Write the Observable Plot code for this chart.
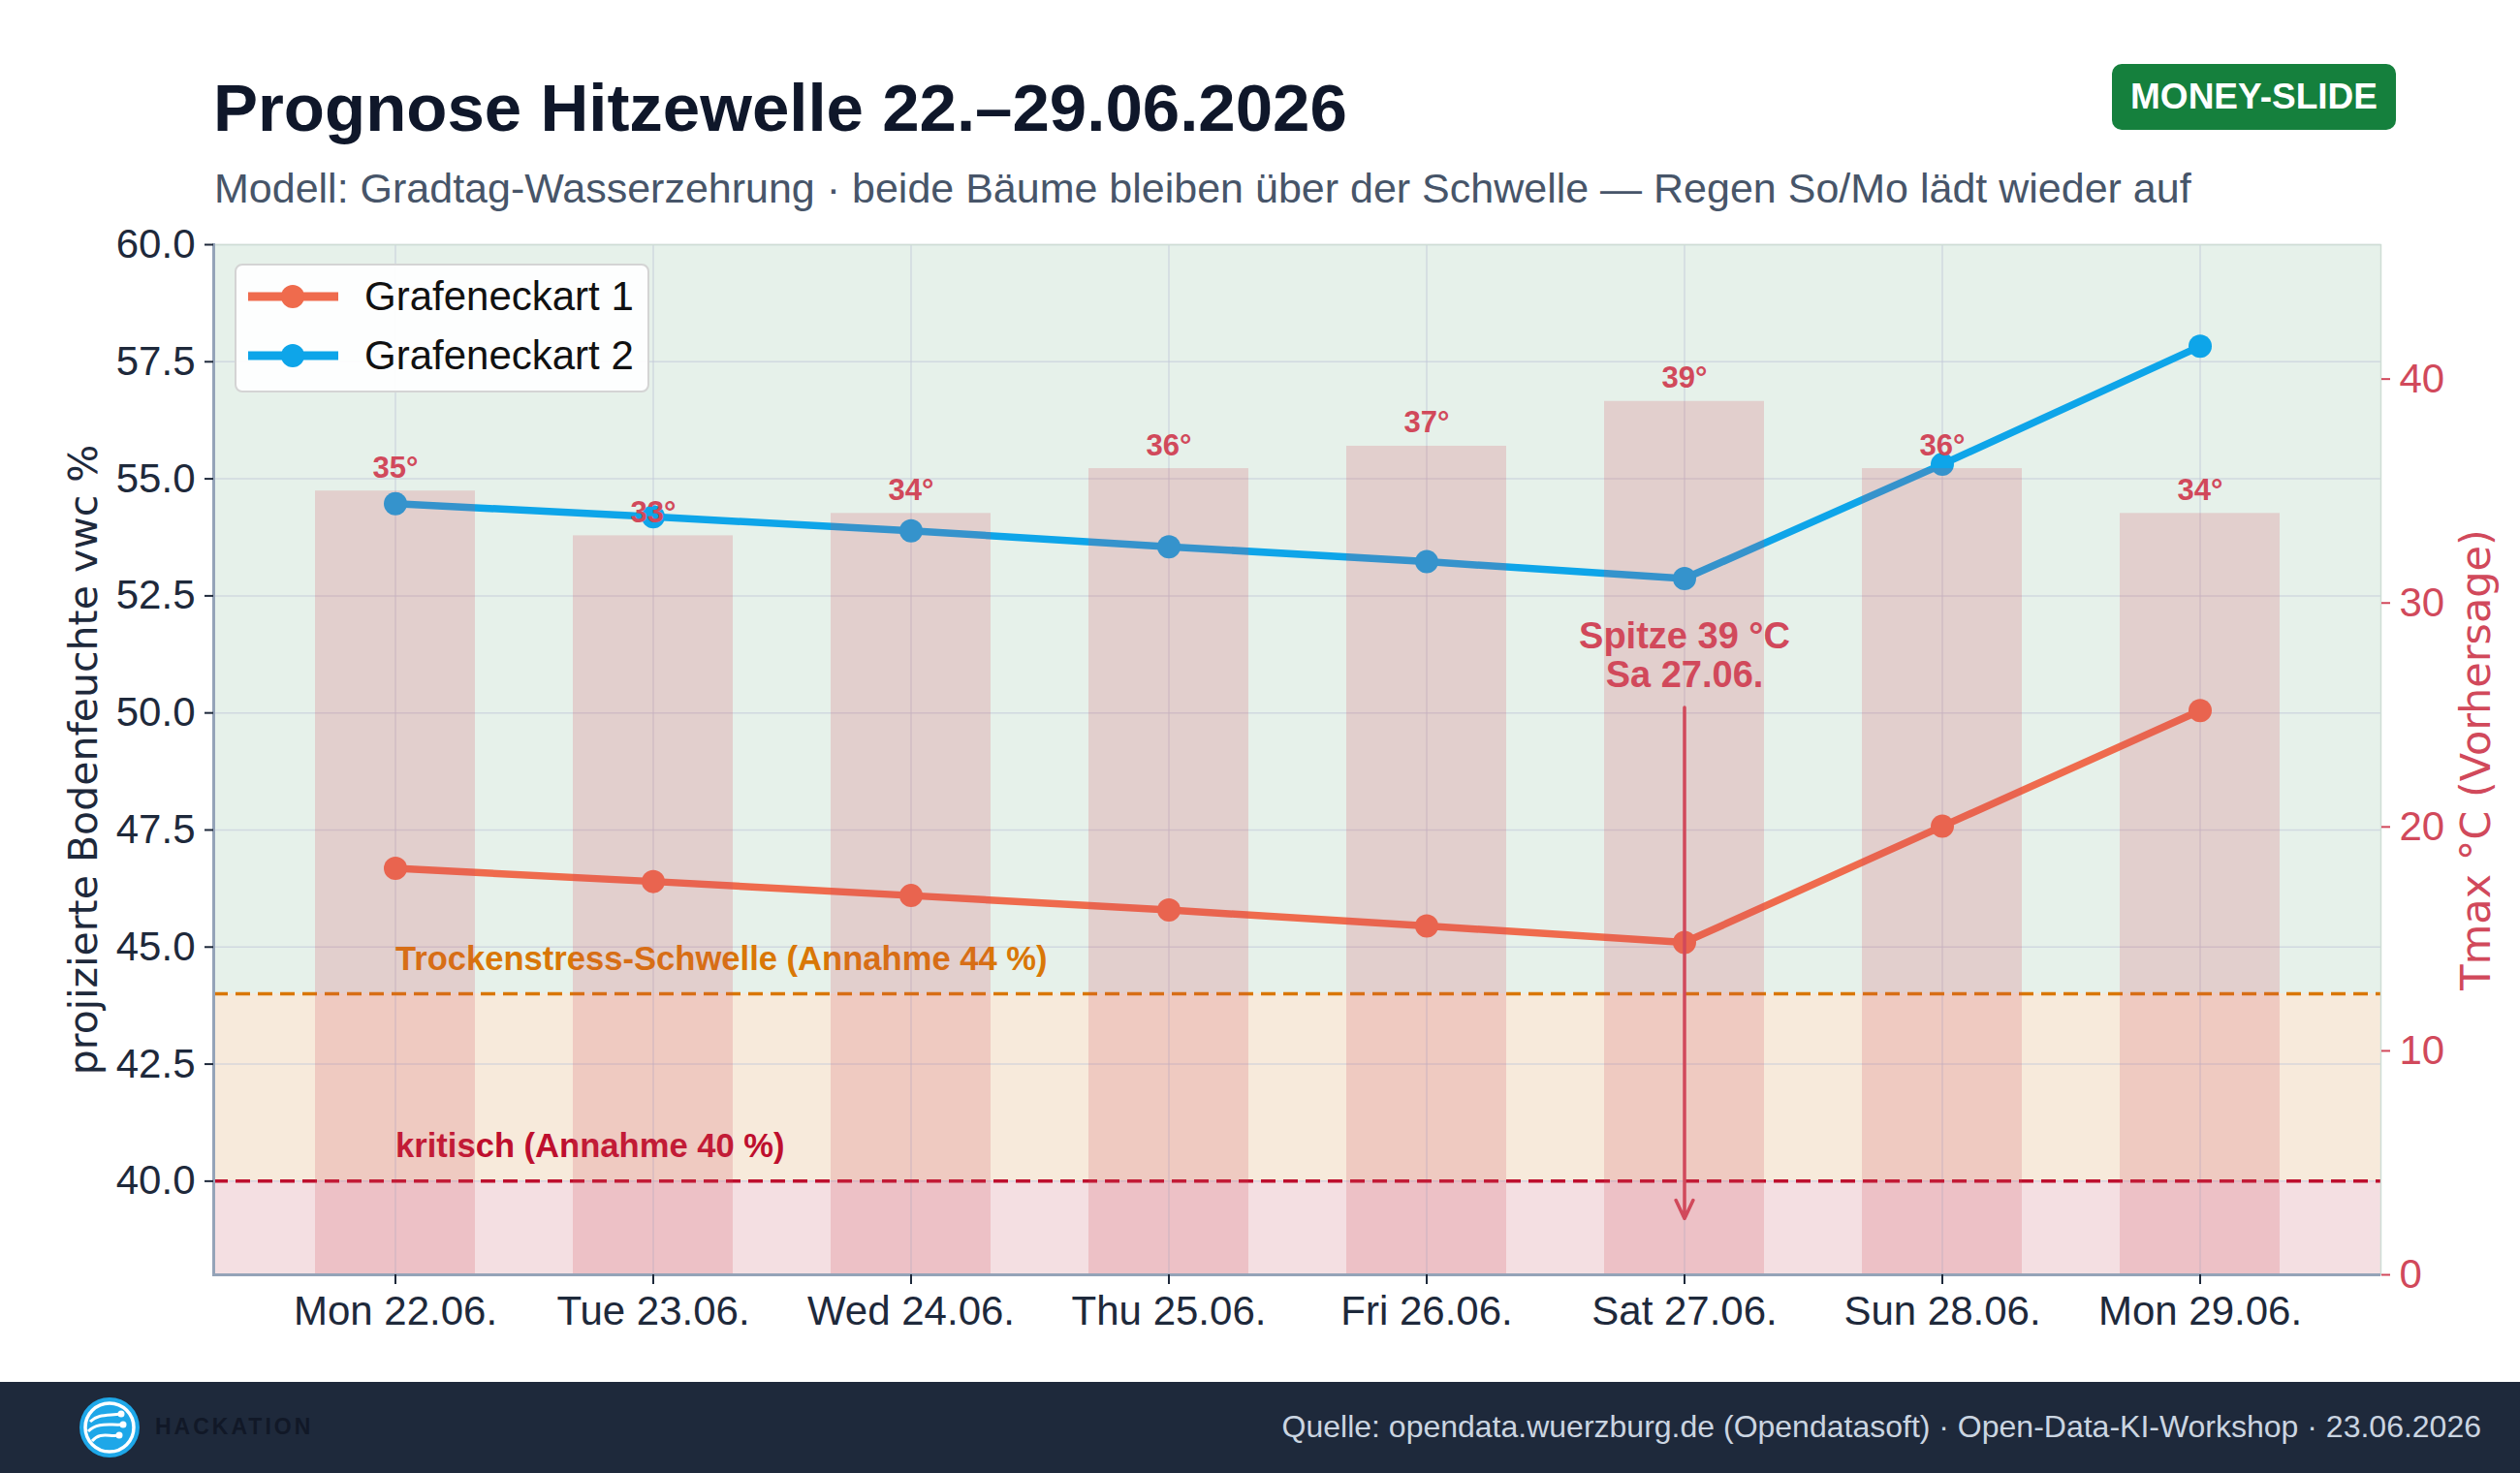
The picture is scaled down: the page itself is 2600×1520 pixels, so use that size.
<!DOCTYPE html>
<html>
<head>
<meta charset="utf-8">
<script src="https://cdn.jsdelivr.net/npm/d3@7"></script>
<script src="https://cdn.jsdelivr.net/npm/@observablehq/plot@0.6"></script>
<style>
  html, body { margin: 0; padding: 0; background: #ffffff; }
  body { width: 2600px; height: 1520px; position: relative; overflow: hidden;
         font-family: "Liberation Sans", Arial, sans-serif; }
  #title { position: absolute; left: 220px; top: 77px; font-size: 69px; line-height: 69px;
           font-weight: 700; color: #0f172a; white-space: nowrap; }
  #subtitle { position: absolute; left: 221px; top: 173px; font-size: 43px; line-height: 43px;
              color: #475569; white-space: nowrap; }
  #badge { position: absolute; left: 2179px; top: 66px; width: 293px; height: 68px;
           background: #15803d; border-radius: 10px; color: #fff; font-weight: 700;
           font-size: 37px; display: flex; align-items: center; justify-content: center; }
  #chart { position: absolute; left: 0; top: 230px; width: 2600px; }
  #legend { position: absolute; left: 242px; top: 42px; width: 424px; height: 129px;
            background: rgba(255,255,255,0.92); border: 2px solid #d4d4d4; border-radius: 8px; }
  .lrow { position: absolute; left: 0; height: 50px; display: flex; align-items: center; }
  .lrow span { font-size: 42px; color: #111; }
  #footer { position: absolute; left: 0; top: 1426px; width: 2600px; height: 94px; background: #1e293b; }
  #source { position: absolute; right: 40px; top: 28px; font-size: 32px; color: #cbd5e1; white-space: nowrap; }
  #logo { position: absolute; left: 81px; top: 15px; }
  #brand { position: absolute; left: 160px; top: 33px; font-size: 23px; font-weight: 700;
           letter-spacing: 3px; color: #111827; }
</style>
</head>
<body>
<div id="title">Prognose Hitzewelle 22.–29.06.2026</div>
<div id="subtitle">Modell: Gradtag-Wasserzehrung · beide Bäume bleiben über der Schwelle — Regen So/Mo lädt wieder auf</div>
<div id="badge">MONEY-SLIDE</div>
<div id="chart"></div>
<div id="footer">
  <svg id="logo" width="64" height="64" viewBox="0 0 64 64">
    <circle cx="32" cy="32" r="31" fill="#1ea7e8"/>
    <circle cx="32" cy="32" r="25" fill="none" stroke="#fff" stroke-width="3.5"/>
    <path d="M12 26 C 20 18, 30 20, 44 18" fill="none" stroke="#fff" stroke-width="3"/>
    <path d="M10 36 C 20 26, 32 30, 46 29" fill="none" stroke="#fff" stroke-width="3"/>
    <path d="M14 46 C 22 36, 32 42, 42 40" fill="none" stroke="#fff" stroke-width="3"/>
    <circle cx="44" cy="18" r="3.5" fill="#fff"/>
    <circle cx="46" cy="29" r="3.5" fill="#fff"/>
    <circle cx="42" cy="40" r="3.5" fill="#fff"/>
  </svg>
  <div id="brand">HACKATION</div>
  <div id="source">Quelle: opendata.wuerzburg.de (Opendatasoft) · Open-Data-KI-Workshop · 23.06.2026</div>
</div>
<script>
// ---------- data ----------
const days = ["Mon 22.06.", "Tue 23.06.", "Wed 24.06.", "Thu 25.06.", "Fri 26.06.", "Sat 27.06.", "Sun 28.06.", "Mon 29.06."];
const tmax = [35, 33, 34, 36, 37, 39, 36, 34];
const gk1 = [46.68, 46.40, 46.10, 45.79, 45.45, 45.10, 47.58, 50.05];
const gk2 = [54.47, 54.19, 53.89, 53.55, 53.23, 52.87, 55.31, 57.83];
const seriesNames = ["Grafeneckart 1", "Grafeneckart 2"];
const seriesColors = ["#ef6b4d", "#0ea5e9"];
const leftTicks = [40, 42.5, 45, 47.5, 50, 52.5, 55, 57.5, 60];
const rightTicks = [0, 10, 20, 30, 40];
const vwcDomain = [38, 60];
const tempDomain = [0, 46];
const thresholdValues = [44, 40];
const thresholdLabels = ["Trockenstress-Schwelle (Annahme 44 %)", "kritisch (Annahme 40 %)"];
const thresholdColors = ["#d97706", "#be0f2e"];
const zoneLo = [44, 40, 38];
const zoneHi = [60, 44, 40];
const zoneFill = ["#e6f1ea", "#f7eadb", "#f4dfe2"];
const peakText = "Spitze 39 °C\nSa 27.06.";
const peakTextAt = [51.23];      // vwc-units position of annotation text
const peakArrow = [50.12, 39.2]; // arrow from / to (vwc units)
const yLabel = "projizierte Bodenfeuchte vwc %";
const y2Label = "Tmax °C (Vorhersage)";
const tempColor = "#d1495b";

// ---------- helpers ----------
const toY = t => vwcDomain[0] + (t - tempDomain[0]) / (tempDomain[1] - tempDomain[0]) * (vwcDomain[1] - vwcDomain[0]);
const fromY = v => tempDomain[0] + (v - vwcDomain[0]) / (vwcDomain[1] - vwcDomain[0]) * (tempDomain[1] - tempDomain[0]);

const zones = zoneLo.map((lo, i) => ({lo, hi: zoneHi[i], fill: zoneFill[i]}));
const thresholds = thresholdValues.map((v, i) => ({v, label: thresholdLabels[i], color: thresholdColors[i], day: days[0]}));
const tempRows = days.map((d, i) => ({day: d, t: tmax[i], base: vwcDomain[0], top: toY(tmax[i])}));
const series = [gk1, gk2].map((vals, s) => days.map((d, i) => ({day: d, v: vals[i]})));
const peakIdx = tmax.indexOf(Math.max(...tmax));
const peak = [{day: days[peakIdx], ty: peakTextAt[0], from: peakArrow[0], to: peakArrow[1], text: peakText}];

const fontMain = "Liberation Sans, Arial, sans-serif";
const fontLabel = "DejaVu Sans, sans-serif";

const chart = Plot.plot({
  width: 2600,
  height: 1196,
  marginTop: 22,
  marginBottom: 111,
  marginLeft: 220,
  marginRight: 144,
  style: {fontFamily: fontMain, fontSize: "42px", color: "#1e293b", background: "transparent", overflow: "visible"},
  x: {type: "band", domain: days, paddingInner: 0.38, paddingOuter: 0.38, label: null},
  y: {domain: vwcDomain, label: null},
  color: {type: "identity"},
  marks: [
    Plot.rect(zones, {y1: "lo", y2: "hi", fill: "fill"}),
    Plot.gridX({stroke: "#c3cad8", strokeOpacity: 0.6, strokeWidth: 1.5}),
    Plot.gridY(leftTicks, {stroke: "#c3cad8", strokeOpacity: 0.6, strokeWidth: 1.5}),
    Plot.ruleY(thresholds, {y: "v", stroke: "color", strokeWidth: 3.5, strokeDasharray: "15,8"}),
    Plot.text(thresholds, {x: "day", y: "v", text: "label", fill: "color", textAnchor: "start",
      lineAnchor: "bottom", dy: -25, fontWeight: "bold", fontSize: 34.6}),
    ...series.map((rows, s) => Plot.line(rows, {x: "day", y: "v", stroke: seriesColors[s], strokeWidth: 7.5})),
    ...series.map((rows, s) => Plot.dot(rows, {x: "day", y: "v", fill: seriesColors[s], r: 12})),
    Plot.frame({stroke: "#cfddd5", strokeWidth: 1.5}),
    Plot.barY(tempRows, {x: "day", y1: "base", y2: "top", fill: tempColor, fillOpacity: 0.2}),
    Plot.text(tempRows, {x: "day", y: "top", text: d => `${d.t}°`, fill: tempColor, fontWeight: "bold",
      fontSize: 31, lineAnchor: "bottom", dy: -14}),
    Plot.arrow(peak, {x1: "day", x2: "day", y1: "from", y2: "to", stroke: tempColor, strokeWidth: 3.5,
      headLength: 9, headAngle: 50}),
    Plot.text(peak, {x: "day", y: "ty", text: "text", fill: tempColor, fontWeight: "bold", fontSize: 38,
      lineHeight: 1.05}),
    Plot.ruleY([vwcDomain[0]], {stroke: "#94a3b8", strokeWidth: 3}),
    Plot.frame({anchor: "left", stroke: "#94a3b8", strokeWidth: 3}),
    Plot.axisY(leftTicks, {anchor: "left", tickFormat: d => d.toFixed(1), tickSize: 9, tickPadding: 10,
      fontSize: 42, stroke: "#1e293b", fill: "#1e293b", strokeWidth: 2, label: null}),
    Plot.axisY(rightTicks.map(toY), {anchor: "right", tickFormat: v => String(Math.round(fromY(v))), tickSize: 9,
      tickPadding: 10, fontSize: 42, stroke: tempColor, fill: tempColor, strokeWidth: 2, label: null}),
    Plot.axisX({tickSize: 10, tickPadding: 12, fontSize: 42, stroke: "#1e293b", fill: "#1e293b", strokeWidth: 2, label: null}),
    Plot.text([yLabel], {frameAnchor: "left", textAnchor: "middle", rotate: -90, dx: -134, fontSize: 41,
      fontFamily: fontLabel, fill: "#1e293b"}),
    Plot.text([y2Label], {frameAnchor: "right", textAnchor: "middle", rotate: -90, dx: 99, fontSize: 43,
      fontFamily: fontLabel, fill: tempColor})
  ]
});
const holder = document.getElementById("chart");
holder.appendChild(chart);

// legend (HTML, inside plot area)
const legend = document.createElement("div");
legend.id = "legend";
seriesNames.forEach((name, i) => {
  const row = document.createElement("div");
  row.className = "lrow";
  row.style.top = (7 + i * 61) + "px";
  row.innerHTML = `<svg width="118" height="50" style="margin-left:10px"><line x1="2" y1="25" x2="95" y2="25" stroke="${seriesColors[i]}" stroke-width="9"/><circle cx="48" cy="25" r="12" fill="${seriesColors[i]}"/></svg><span style="margin-left:4px">${name}</span>`;
  legend.appendChild(row);
});
holder.appendChild(legend);
</script>
</body>
</html>
